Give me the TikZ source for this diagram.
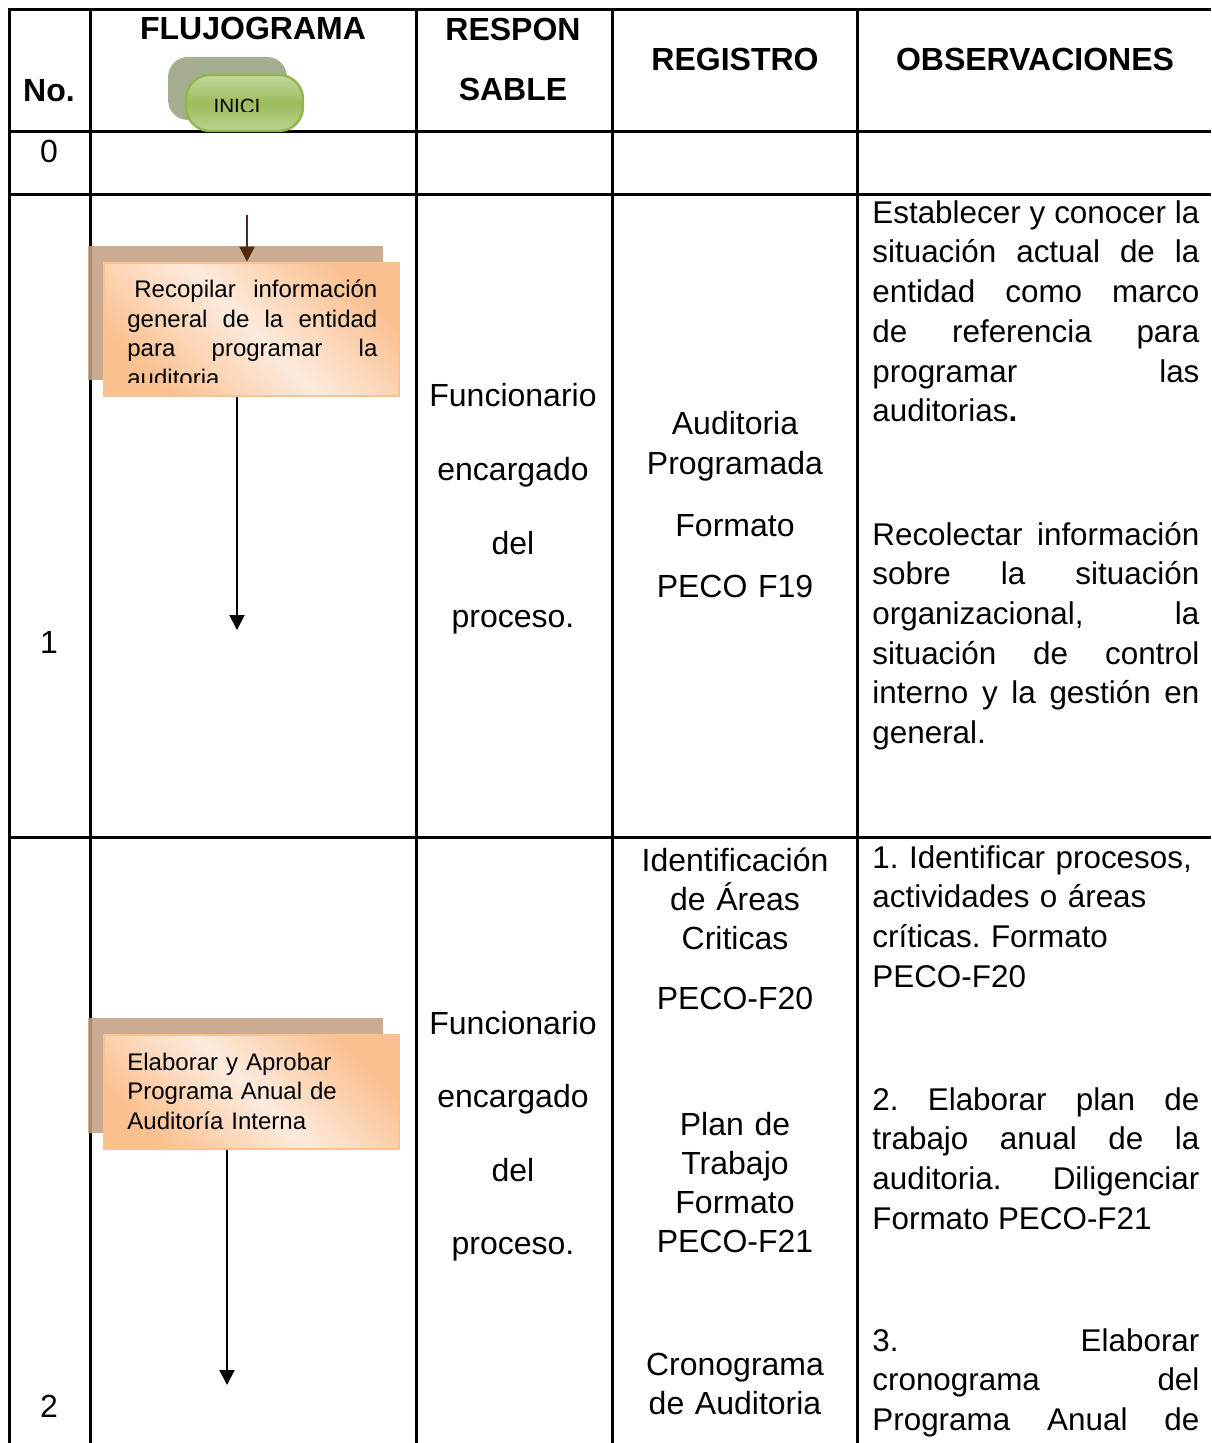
\documentclass[tikz,border=0pt]{standalone}
\usepackage{fontspec}
\setmainfont{Liberation Sans}
\usetikzlibrary{arrows.meta}
\frenchspacing
\definecolor{ShadowBrown}{HTML}{C49F83}
\definecolor{BoxLine}{HTML}{FAC28F}
\definecolor{BoxEdge}{HTML}{FAC08F}
\definecolor{BoxMid}{HTML}{FDEBDD}
\definecolor{ArrowBrown}{HTML}{502D0F}
\definecolor{IniShade}{HTML}{A5AF8F}
\definecolor{IniTop}{HTML}{C4D89F}
\definecolor{IniMid}{HTML}{9DBC5B}
\definecolor{IniLine}{HTML}{93B54F}

\begin{document}
\begin{tikzpicture}[x=0.5pt,y=-0.5pt]
  \tikzset{TableLine/.style = {line width=1.5pt,black}}
  \tikzset{HeadStyle/.style = {font=\fontsize{16}{30}\selectfont\bfseries,inner sep=0pt,anchor=base,text width=110pt,align=center}}
  \tikzset{CellStyle/.style = {font=\fontsize{16}{19.6}\selectfont,inner sep=0pt,anchor=base,text width=120pt,align=center}}
  \tikzset{ObsStyle/.style = {font=\fontsize{15.7}{19.85}\selectfont,inner sep=0pt,anchor=base west,text width=163.5pt,align=justify}}
  \tikzset{ShadeBox/.style = {shape=rectangle,fill=ShadowBrown,fill opacity=0.88,draw=none,minimum width=147.5pt,inner sep=0pt}}
  \tikzset{StepBox/.style = {shape=rectangle,draw=BoxLine,line width=1.3pt,top color=BoxEdge,bottom color=BoxEdge,middle color=BoxMid,shading angle=-45,minimum width=147.5pt,inner sep=0pt}}
  \tikzset{BoxText/.style = {font=\fontsize{12}{14.75}\selectfont,inner sep=0pt,anchor=base west}}
  \tikzset{OutArrow/.style = {line width=1pt,black,-{Triangle[width=7.5pt,length=7.5pt]}}}
\useasboundingbox (0,0) rectangle (1211,1443);
\clip (0,0) rectangle (1211,1443);
%
\draw[TableLine] (1211,9.5) -- (9,9.5) -- (9,1443);
\draw[TableLine] (9,132) -- (1211,132);
\draw[TableLine] (9,194.5) -- (1211,194.5);
\draw[TableLine] (9,837.5) -- (1211,837.5);
\draw[TableLine] (90,9.5) -- (90,1443);
\draw[TableLine] (416,9.5) -- (416,1443);
\draw[TableLine] (612,9.5) -- (612,1443);
\draw[TableLine] (857,9.5) -- (857,1443);
%
\node[HeadStyle] (hno) at (49,101.5) {No.};
\node[HeadStyle,text width=150pt] (hflujo) at (253,39.5) {FLUJOGRAMA};
\node[HeadStyle] (hresp) at (513,41) {RESPON\\SABLE};
\node[HeadStyle] (hreg) at (735,71) {REGISTRO};
\node[HeadStyle,text width=160pt] (hobs) at (1035,71) {OBSERVACIONES};
%
\node[shape=rectangle,rounded corners=10pt,fill=IniShade,minimum width=59.5pt,minimum height=31.5pt] (inis) at (227.5,88.5) {};
\node[shape=rectangle,rounded corners=12pt,draw=IniLine,line width=1.2pt,top color=IniTop,bottom color=IniTop!80!IniMid,middle color=IniMid,minimum width=58.5pt,minimum height=28pt] (ini) at (244.5,103) {};
\begin{scope}
  \clip (186,75) rectangle (303,112);
  \node[inner sep=0pt,anchor=base,font=\fontsize{10.3}{12}\selectfont] (initext) at (237,114) {INICI};
\end{scope}
%
\node[CellStyle] (n0) at (49,162.5) {0};
\node[CellStyle] (n1) at (49,653) {1};
\node[CellStyle] (n2) at (49,1417) {2};
%
\node[ShadeBox,minimum height=67pt] (b1s) at (235.5,313) {};
\node[StepBox,minimum height=66.5pt] (b1) at (251.5,329.5) {};
\begin{scope}
  \clip (104,263) rectangle (399,383);
  \node[BoxText,text width=125pt,align=justify] (t1) at (127,297.7) {\hspace*{3.5pt}Recopilar informaci\'on\linebreak general de la entidad\linebreak para programar la\linebreak auditoria};
\end{scope}
\coordinate (a1) at (247,215);
\draw[OutArrow,ArrowBrown] (a1) -- (a1 |- b1.north);
\coordinate (e1) at (237,630);
\draw[OutArrow] (e1 |- b1.south) -- (e1);
%
\node[ShadeBox,minimum height=57.5pt] (b2s) at (235.5,1075.5) {};
\node[StepBox,minimum height=57pt] (b2) at (251.5,1092) {};
\node[BoxText,text width=130pt,align=left] (t2) at (127,1070) {Elaborar y Aprobar\\ Programa Anual de\\ Auditor\'ia Interna};
\coordinate (e2) at (227,1385);
\draw[OutArrow] (e2 |- b2.south) -- (e2);
%
\node[CellStyle,font=\fontsize{16}{36.8}\selectfont] (r1) at (513,407) {Funcionario\\ encargado\\ del\\ proceso.};
\node[CellStyle,font=\fontsize{16}{36.8}\selectfont] (r2) at (513,1034) {Funcionario\\ encargado\\ del\\ proceso.};
%
\node[CellStyle] (g1) at (735,435) {Auditoria\\ Programada\\[11.5pt] Formato\\[11pt] PECO F19};
\node[CellStyle] (g2a) at (735,871) {Identificaci\'on\\ de \'Areas\\ Criticas\\[10.5pt] PECO-F20};
\node[CellStyle] (g2b) at (735,1135) {Plan de\\ Trabajo\\ Formato\\ PECO-F21};
\node[CellStyle] (g2c) at (735,1375) {Cronograma\\ de Auditoria};
%
\node[ObsStyle] (o1a) at (872,223.3) {Establecer y conocer la\linebreak situaci\'on actual de la\linebreak entidad como marco\linebreak de referencia para\linebreak programar las\linebreak auditorias\textbf{.}};
\node[ObsStyle] (o1b) at (872,545) {Recolectar informaci\'on\linebreak sobre la situaci\'on\linebreak organizacional, la\linebreak situaci\'on de control\linebreak interno y la gesti\'on en\linebreak general.};
\node[ObsStyle,align=left] (o2a) at (872,868) {1. Identificar procesos,\\ actividades o \'areas\\ cr\'iticas. Formato\\ PECO-F20};
\node[ObsStyle] (o2b) at (872,1110) {2. Elaborar plan de\linebreak trabajo anual de la\linebreak auditoria. Diligenciar\linebreak Formato PECO-F21};
\node[ObsStyle] (o2c) at (872,1351) {3. Elaborar\linebreak cronograma del\linebreak Programa\hfill Anual\hfill de};
\end{tikzpicture}
\end{document}
